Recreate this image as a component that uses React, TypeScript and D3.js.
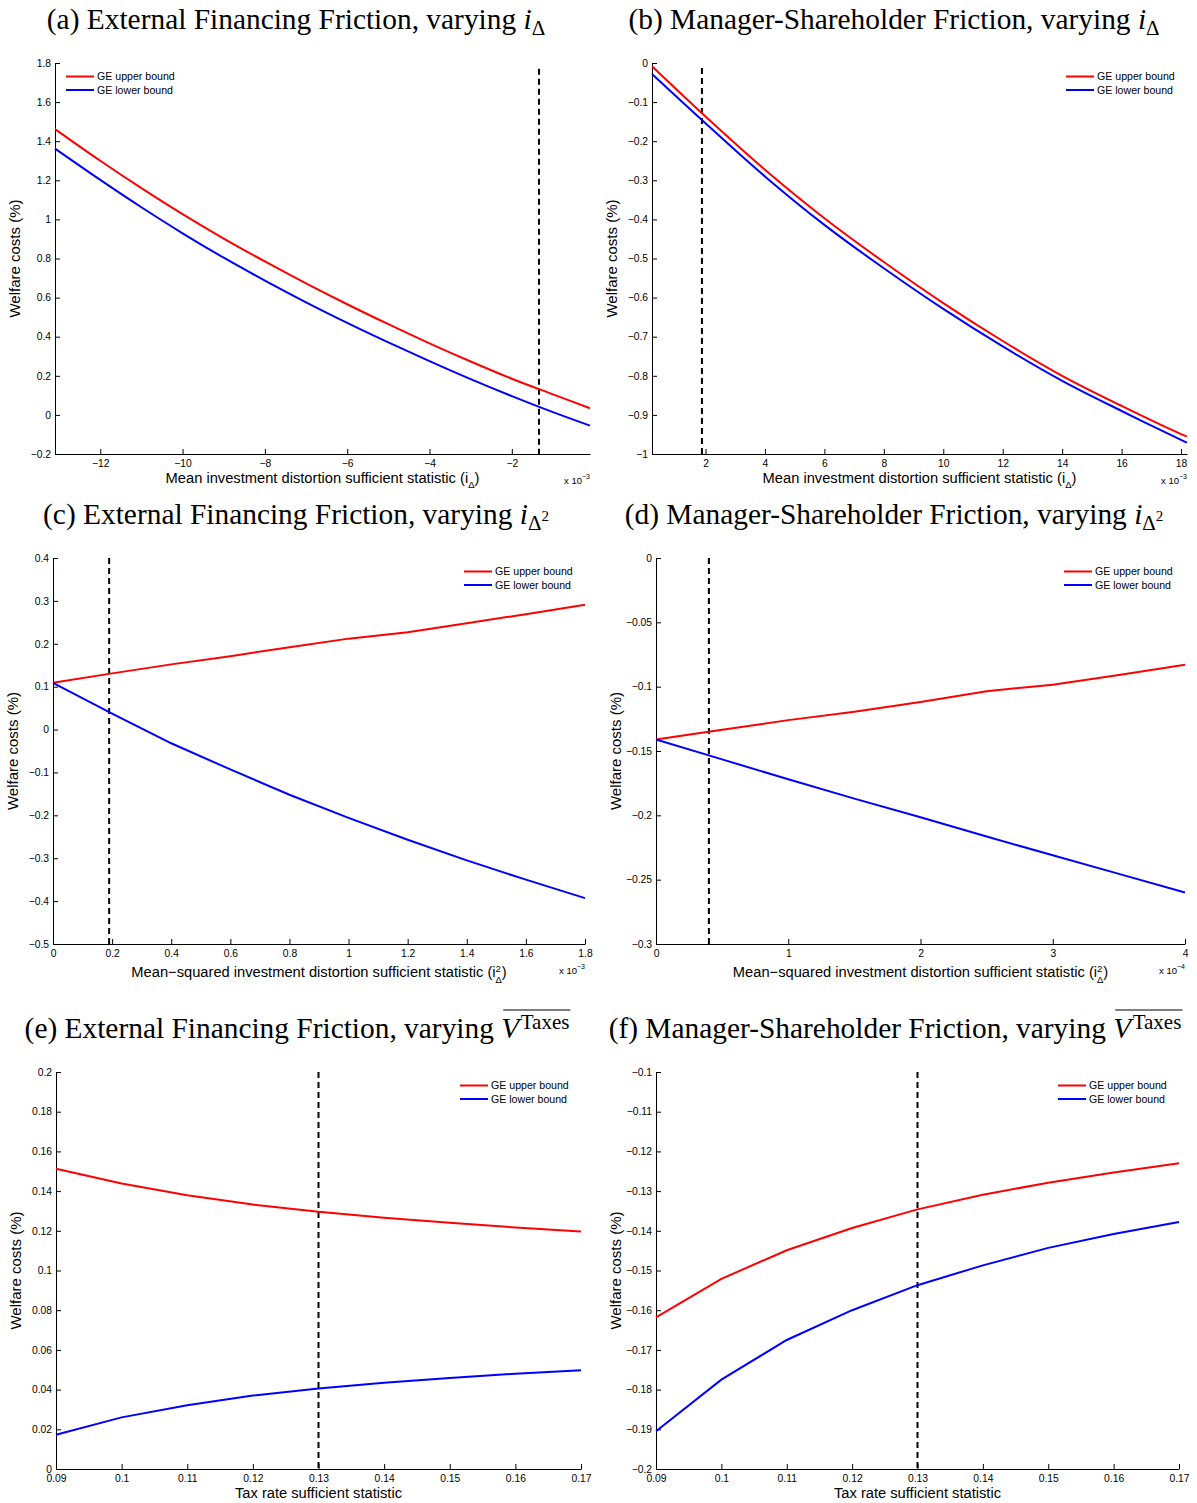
import React, { useEffect, useRef } from 'react';
import * as d3 from 'd3';

// (a) external financing friction, varying i_delta (x in 1e-3)
const aX = [-13.1, -12, -11, -10, -9, -8, -7, -6, -5, -4, -3, -2, -1, -0.1];
const aUpper = [1.462, 1.3, 1.16, 1.027, 0.902, 0.785, 0.673, 0.566, 0.464, 0.366, 0.273, 0.185, 0.105, 0.034];
const aLower = [1.362, 1.202, 1.062, 0.929, 0.804, 0.687, 0.576, 0.471, 0.371, 0.275, 0.183, 0.096, 0.014, -0.055];
const aXTicks = [-12, -10, -8, -6, -4, -2];
const aYTicks = [-0.2, 0, 0.2, 0.4, 0.6, 0.8, 1, 1.2, 1.4, 1.6, 1.8];
const aCutoff = -1.34;

// (b) manager-shareholder friction, varying i_delta (x in 1e-3)
const bX = [0.2, 2, 4, 6, 8, 10, 12, 14, 16, 18, 18.2];
const bUpper = [-0.0085, -0.137, -0.273, -0.397, -0.509, -0.614, -0.711, -0.8, -0.877, -0.949, -0.955];
const bLower = [-0.028, -0.154, -0.29, -0.414, -0.525, -0.629, -0.725, -0.813, -0.89, -0.964, -0.971];
const bXTicks = [2, 4, 6, 8, 10, 12, 14, 16, 18];
const bYTicks = [-1, -0.9, -0.8, -0.7, -0.6, -0.5, -0.4, -0.3, -0.2, -0.1, 0];
const bCutoff = 1.88;

// (c) external financing friction, varying i_delta^2 (x in 1e-3)
const cX = [0, 0.2, 0.4, 0.6, 0.8, 1, 1.2, 1.4, 1.6, 1.8];
const cUpper = [0.109, 0.131, 0.152, 0.171, 0.192, 0.212, 0.227, 0.248, 0.269, 0.291];
const cLower = [0.109, 0.037, -0.032, -0.093, -0.152, -0.206, -0.257, -0.305, -0.35, -0.393];
const cXTicks = [0, 0.2, 0.4, 0.6, 0.8, 1, 1.2, 1.4, 1.6, 1.8];
const cYTicks = [-0.5, -0.4, -0.3, -0.2, -0.1, 0, 0.1, 0.2, 0.3, 0.4];
const cCutoff = 0.19;

// (d) manager-shareholder friction, varying i_delta^2 (x in 1e-4)
const dX = [0, 0.5, 1, 1.5, 2, 2.5, 3, 3.5, 4];
const dUpper = [-0.141, -0.1335, -0.126, -0.1195, -0.112, -0.1035, -0.0985, -0.091, -0.083];
const dLower = [-0.141, -0.1565, -0.172, -0.187, -0.2015, -0.2165, -0.231, -0.2455, -0.26];
const dXTicks = [0, 1, 2, 3, 4];
const dYTicks = [-0.3, -0.25, -0.2, -0.15, -0.1, -0.05, 0];
const dCutoff = 0.4;

// (e) external financing friction, varying taxes
const eX = [0.09, 0.1, 0.11, 0.12, 0.13, 0.14, 0.15, 0.16, 0.17];
const eUpper = [0.1513, 0.1438, 0.1379, 0.1332, 0.1296, 0.1266, 0.1241, 0.1217, 0.1197];
const eLower = [0.0173, 0.026, 0.0321, 0.037, 0.0405, 0.0435, 0.0459, 0.048, 0.0497];
const eYTicks = [0, 0.02, 0.04, 0.06, 0.08, 0.1, 0.12, 0.14, 0.16, 0.18, 0.2];

// (f) manager-shareholder friction, varying taxes
const fUpper = [-0.1618, -0.1521, -0.1449, -0.1393, -0.1346, -0.1309, -0.1279, -0.1253, -0.123];
const fLower = [-0.1905, -0.1775, -0.1675, -0.16, -0.1537, -0.1487, -0.1443, -0.1408, -0.1378];
const fYTicks = [-0.2, -0.19, -0.18, -0.17, -0.16, -0.15, -0.14, -0.13, -0.12, -0.11, -0.1];
const taxTicks = [0.09, 0.1, 0.11, 0.12, 0.13, 0.14, 0.15, 0.16, 0.17];
const taxCutoff = 0.13;

const legendLabels = ['GE upper bound', 'GE lower bound'];
const SANS = 'Liberation Sans, Arial, Helvetica, sans-serif';
const SERIF = 'Liberation Serif, Times New Roman, serif';

type Seg = { t: string; italic?: boolean; size?: number; dy?: number; dx?: number; over?: boolean };

const iDelta: Seg[] = [{ t: 'i', italic: true }, { t: 'Δ', size: 21, dy: 6 }];
const iDelta2: Seg[] = [{ t: 'i', italic: true }, { t: 'Δ', size: 21, dy: 6 }, { t: '2', size: 15, dy: -3 }];
const vTaxes: Seg[] = [{ t: 'V', italic: true, over: true }, { t: ' ', size: 6, over: true }, { t: 'Taxes', size: 21, dy: -9, over: true }];

const meanLabel: Seg[] = [{ t: 'Mean investment distortion sufficient statistic (i' }, { t: 'Δ', size: 9.5, dy: 5 }, { t: ')', dy: 0 }];
const msqLabel: Seg[] = [
  { t: 'Mean−squared investment distortion sufficient statistic (i' },
  { t: '2', size: 9.5, dy: -5 },
  { t: 'Δ', size: 9.5, dy: 6, dx: -5.5 },
  { t: ')', dy: 0 },
];
const taxLabel: Seg[] = [{ t: 'Tax rate sufficient statistic' }];

const panels = [
  {
    title: [{ t: '(a) External Financing Friction, varying ' }, ...iDelta], tx: 296, ty: 29,
    box: [55, 590, 63, 454], xDomain: [-13.1, -0.1], yDomain: [-0.2, 1.8],
    xs: aX, upper: aUpper, lower: aLower, xTicks: aXTicks, yTicks: aYTicks,
    cutoff: aCutoff, cutTop: 1.77, legend: 'left', xLabel: meanLabel, exp: '−3', smooth: true,
  },
  {
    title: [{ t: '(b) Manager-Shareholder Friction, varying ' }, ...iDelta], tx: 894, ty: 29,
    box: [652, 1187, 63, 454], xDomain: [0.2, 18.2], yDomain: [-1, 0],
    xs: bX, upper: bUpper, lower: bLower, xTicks: bXTicks, yTicks: bYTicks,
    cutoff: bCutoff, cutTop: -0.013, legend: 'right', xLabel: meanLabel, exp: '−3', smooth: true,
  },
  {
    title: [{ t: '(c) External Financing Friction, varying ' }, ...iDelta2], tx: 296, ty: 524,
    box: [53, 585, 558, 944], xDomain: [0, 1.8], yDomain: [-0.5, 0.4],
    xs: cX, upper: cUpper, lower: cLower, xTicks: cXTicks, yTicks: cYTicks,
    cutoff: cCutoff, cutTop: 0.4, legend: 'right', xLabel: msqLabel, exp: '−3', smooth: false,
  },
  {
    title: [{ t: '(d) Manager-Shareholder Friction, varying ' }, ...iDelta2], tx: 894, ty: 524,
    box: [656, 1185, 558, 944], xDomain: [0, 4], yDomain: [-0.3, 0],
    xs: dX, upper: dUpper, lower: dLower, xTicks: dXTicks, yTicks: dYTicks,
    cutoff: dCutoff, cutTop: 0, legend: 'right', xLabel: msqLabel, exp: '−4', smooth: false,
  },
  {
    title: [{ t: '(e) External Financing Friction, varying ' }, ...vTaxes], tx: 297, ty: 1038,
    box: [56, 581, 1072, 1469], xDomain: [0.09, 0.17], yDomain: [0, 0.2],
    xs: eX, upper: eUpper, lower: eLower, xTicks: taxTicks, yTicks: eYTicks,
    cutoff: taxCutoff, cutTop: 0.2, legend: 'right', xLabel: taxLabel, exp: '', smooth: false,
  },
  {
    title: [{ t: '(f) Manager-Shareholder Friction, varying ' }, ...vTaxes], tx: 895, ty: 1038,
    box: [656, 1179, 1072, 1469], xDomain: [0.09, 0.17], yDomain: [-0.2, -0.1],
    xs: eX, upper: fUpper, lower: fLower, xTicks: taxTicks, yTicks: fYTicks,
    cutoff: taxCutoff, cutTop: -0.1, legend: 'right', xLabel: taxLabel, exp: '', smooth: false,
  },
];

const fmt = (v: number) => String(Math.round(v * 1e6) / 1e6).replace('-', '−');

function rich(g: any, segs: Seg[], x: number, y: number, family: string, size: number, anchor: string) {
  const text = g.append('text')
    .attr('x', x).attr('y', y)
    .attr('font-family', family).attr('font-size', size)
    .attr('text-anchor', anchor).attr('fill', '#000')
    .attr('xml:space', 'preserve');
  let prev = 0;
  const nodes: any[] = [];
  segs.forEach(s => {
    const off = s.dy || 0;
    const ts = text.append('tspan').text(s.t).attr('dy', off - prev);
    if (s.dx) ts.attr('dx', s.dx);
    if (s.italic) ts.attr('font-style', 'italic');
    if (s.size) ts.attr('font-size', s.size);
    prev = off;
    nodes.push(ts.node());
  });
  return { text, nodes };
}

const App = () => {
  const ref = useRef<SVGSVGElement>(null);

  useEffect(() => {
    const svg = d3.select(ref.current);
    svg.selectAll('*').remove();

    panels.forEach(p => {
      const [x0, x1, y0, y1] = p.box;
      const x = d3.scaleLinear().domain(p.xDomain).range([x0, x1]);
      const y = d3.scaleLinear().domain(p.yDomain).range([y1, y0]);
      const g = svg.append('g');

      // title, centred after measuring
      const { text, nodes } = rich(g, p.title as Seg[], 0, p.ty, SERIF, 29.4, 'start');
      const total = (text.node() as any).getComputedTextLength();
      const left = p.tx - total / 2;
      text.attr('x', left);
      let cum = 0;
      let oStart = -1;
      let oEnd = -1;
      (p.title as Seg[]).forEach((s, i) => {
        const w = nodes[i].getComputedTextLength();
        if (s.over && oStart < 0) oStart = cum;
        cum += w;
        if (s.over) oEnd = cum;
      });
      if (oStart >= 0) {
        g.append('line')
          .attr('x1', left + oStart + 2).attr('x2', left + oEnd + 1)
          .attr('y1', p.ty - 28).attr('y2', p.ty - 28)
          .attr('stroke', '#000').attr('stroke-width', 1.2);
      }

      // axes (box off, ticks inward)
      const xAxis = g.append('g')
        .attr('transform', `translate(0,${y1})`)
        .call(d3.axisBottom(x).tickValues(p.xTicks).tickFormat(fmt as any).tickSizeInner(-5).tickSizeOuter(0).tickPadding(5.5));
      const yAxis = g.append('g')
        .attr('transform', `translate(${x0},0)`)
        .call(d3.axisLeft(y).tickValues(p.yTicks).tickFormat(fmt as any).tickSizeInner(-5).tickSizeOuter(0).tickPadding(4));
      [xAxis, yAxis].forEach(a => {
        a.attr('font-family', SANS).attr('font-size', 10.3);
        a.selectAll('text').attr('fill', '#000');
        a.selectAll('line,path').attr('stroke', '#000');
      });

      // cutoff line
      g.append('line')
        .attr('x1', x(p.cutoff)).attr('x2', x(p.cutoff))
        .attr('y1', y(p.cutTop)).attr('y2', y1)
        .attr('stroke', '#000').attr('stroke-width', 2).attr('stroke-dasharray', '6,4');

      // series
      const line = d3.line<number>()
        .x((_, i) => x(p.xs[i]))
        .y(d => y(d))
        .curve(p.smooth ? d3.curveCatmullRom : d3.curveLinear);
      [[p.upper, '#ff0000'], [p.lower, '#0000ff']].forEach(([vals, col]: any) => {
        g.append('path')
          .attr('d', line(vals))
          .attr('fill', 'none')
          .attr('stroke', col)
          .attr('stroke-width', 2);
      });

      // legend
      const lx = p.legend === 'left' ? x0 + 11 : x1 - 121;
      const leg = g.append('g').attr('transform', `translate(${lx},${y0 + 13.5})`);
      legendLabels.forEach((lab, i) => {
        leg.append('line')
          .attr('x1', 0).attr('x2', 28).attr('y1', i * 13.5).attr('y2', i * 13.5)
          .attr('stroke', i === 0 ? '#ff0000' : '#0000ff').attr('stroke-width', 2);
        leg.append('text')
          .attr('x', 31).attr('y', i * 13.5).attr('dy', '0.35em')
          .attr('font-family', SANS).attr('font-size', 10.6).attr('fill', '#000')
          .text(lab);
      });

      // axis labels
      const msq = p.xLabel === msqLabel;
      rich(g, p.xLabel, (x0 + x1) / 2, y1 + (msq ? 33 : 29), SANS, 14.7, 'middle');
      g.append('text')
        .attr('transform', `translate(${x0 - 35},${(y0 + y1) / 2}) rotate(-90)`)
        .attr('text-anchor', 'middle')
        .attr('font-family', SANS).attr('font-size', 15).attr('fill', '#000')
        .text('Welfare costs (%)');
      if (p.exp) {
        rich(g, [{ t: 'x 10' }, { t: p.exp, size: 7, dy: -5 }], x1, y1 + 30, SANS, 9.5, 'end');
      }
    });
  }, []);

  return (
    <svg ref={ref} width={1197} height={1503}
      style={{ position: 'absolute', left: 0, top: 0, background: '#fff' }} />
  );
};

export default App;
